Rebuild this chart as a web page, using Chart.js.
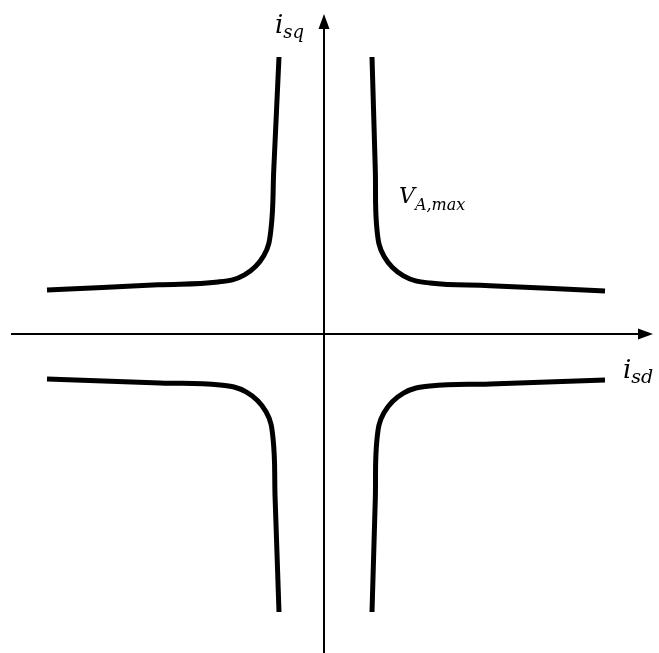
<!DOCTYPE html>
<html>
<head>
<meta charset="utf-8">
<script src="https://cdn.jsdelivr.net/npm/chart.js@4.4.1/dist/chart.umd.min.js"></script>
<style>
  html, body { margin: 0; padding: 0; background: #fff; }
</style>
</head>
<body>
<canvas id="chart" width="659" height="653"></canvas>
<script>
// voltage-limit boundary, one branch per quadrant: [i_sd, i_sq]
const upperLeft = [[-277, 44], [-166, 49.2], [-106, 52], [-79.5, 59.1], [-60.1, 78.5], [-53, 105], [-50.2, 165], [-45, 277]];
const upperRight = [[48, 277], [51.3, 164], [53, 104], [60.1, 77.5], [79.5, 58.1], [106, 51], [166, 48.3], [281, 43]];
const lowerLeft = [[-277, -45], [-164, -48.9], [-104, -51], [-77.5, -58.1], [-58.1, -77.5], [-51, -104], [-48.9, -164], [-45, -278]];
const lowerRight = [[48, -278], [51.3, -165], [53, -105], [60.1, -78.5], [79.5, -59.1], [106, -52], [166, -49.9], [281, -46]];

// visible range and axis extents
const xRange = [-324, 335];
const yRange = [-319, 334];
const xAxisSpan = [-313, 329];
const yAxisSpan = [-319, 320];

// axis / curve labels: main letter + subscript, anchored at the baseline
const labels = [
  {main: 'i', sub: 'sq', x: -49, y: 301, size: 26, subSize: 18, drop: 5},
  {main: 'i', sub: 'sd', x: 299, y: -44, size: 26, subSize: 19, drop: 5},
  {main: 'V', sub: 'A,max', x: 75, y: 131, size: 22, subSize: 16, drop: 7}
];

const toPoints = arr => arr.map(([x, y]) => ({x, y}));

const branch = arr => ({
  data: toPoints(arr),
  showLine: true,
  borderColor: '#000',
  borderWidth: 5,
  borderCapStyle: 'butt',
  borderJoinStyle: 'round',
  tension: 0.4,
  pointRadius: 0,
  fill: false
});

const axesPlugin = {
  id: 'axes',
  beforeDatasetsDraw(chart) {
    const ctx = chart.ctx;
    const xs = chart.scales.x, ys = chart.scales.y;
    const x0 = xs.getPixelForValue(0), y0 = ys.getPixelForValue(0);
    const xl = xs.getPixelForValue(xAxisSpan[0]), xr = xs.getPixelForValue(xAxisSpan[1]);
    const yb = ys.getPixelForValue(yAxisSpan[0]), yt = ys.getPixelForValue(yAxisSpan[1]);
    ctx.save();
    ctx.strokeStyle = '#000';
    ctx.fillStyle = '#000';
    ctx.lineWidth = 2;
    ctx.beginPath();
    ctx.moveTo(xl, y0);
    ctx.lineTo(xr - 12, y0);
    ctx.moveTo(x0, yb);
    ctx.lineTo(x0, yt + 12);
    ctx.stroke();
    // arrow heads
    ctx.beginPath();
    ctx.moveTo(xr, y0);
    ctx.lineTo(xr - 15, y0 - 5.5);
    ctx.lineTo(xr - 15, y0 + 5.5);
    ctx.closePath();
    ctx.fill();
    ctx.beginPath();
    ctx.moveTo(x0, yt);
    ctx.lineTo(x0 - 5.5, yt + 15);
    ctx.lineTo(x0 + 5.5, yt + 15);
    ctx.closePath();
    ctx.fill();
    ctx.restore();
  },
  afterDraw(chart) {
    const ctx = chart.ctx;
    const xs = chart.scales.x, ys = chart.scales.y;
    ctx.save();
    ctx.fillStyle = '#000';
    ctx.textBaseline = 'alphabetic';
    labels.forEach(l => {
      const px = xs.getPixelForValue(l.x), py = ys.getPixelForValue(l.y);
      ctx.font = 'italic ' + l.size + 'px "DejaVu Serif"';
      ctx.fillText(l.main, px, py);
      const w = ctx.measureText(l.main).width;
      ctx.font = 'italic ' + l.subSize + 'px "DejaVu Serif"';
      ctx.fillText(l.sub, px + w, py + l.drop);
    });
    ctx.restore();
  }
};

new Chart(document.getElementById('chart'), {
  type: 'scatter',
  data: {
    datasets: [branch(upperLeft), branch(upperRight), branch(lowerLeft), branch(lowerRight)]
  },
  options: {
    responsive: false,
    animation: false,
    layout: {padding: 0},
    plugins: {legend: {display: false}, tooltip: {enabled: false}},
    scales: {
      x: {type: 'linear', min: xRange[0], max: xRange[1], display: false},
      y: {type: 'linear', min: yRange[0], max: yRange[1], display: false}
    }
  },
  plugins: [axesPlugin]
});
</script>
</body>
</html>
